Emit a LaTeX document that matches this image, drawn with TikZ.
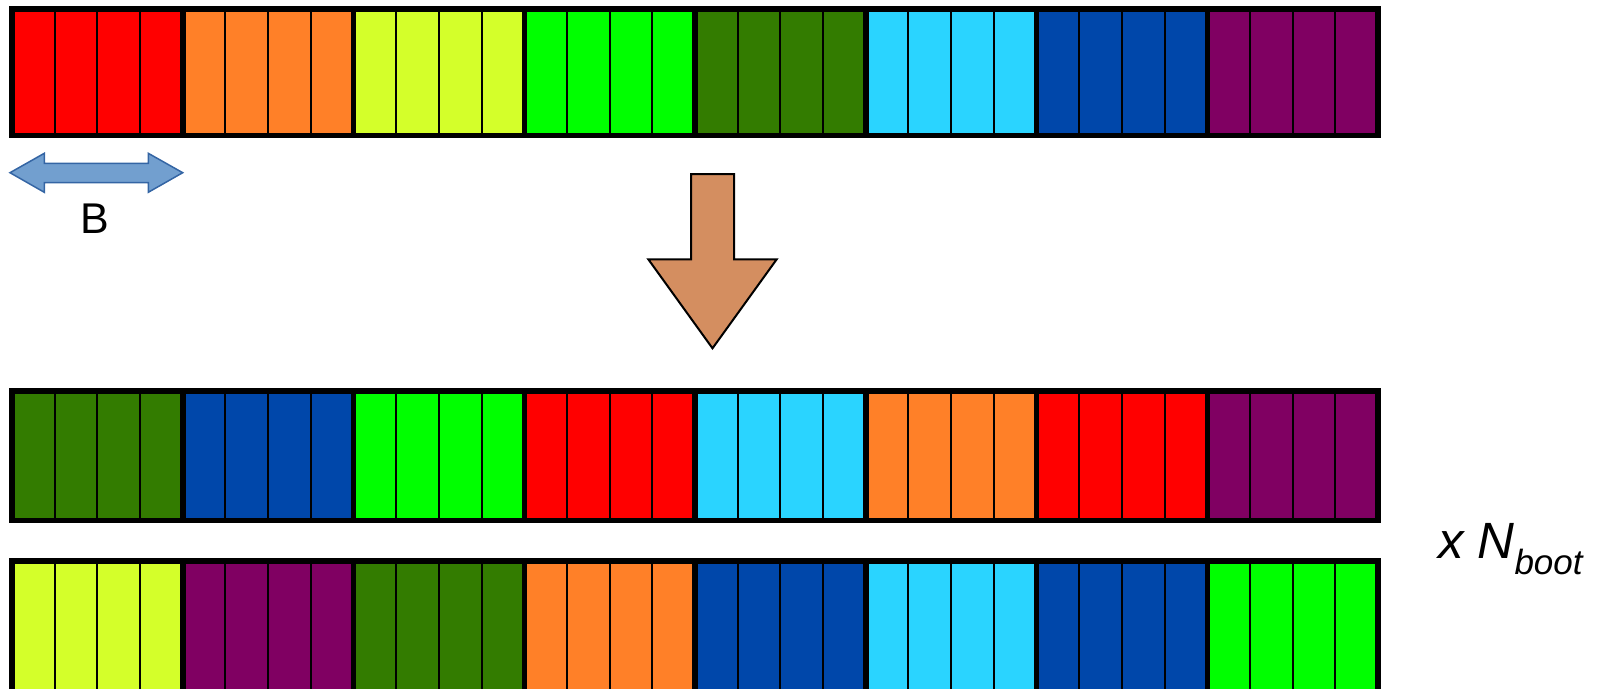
\documentclass[tikz,border=0pt]{standalone}
\usepackage{fontspec}
\setmainfont{Liberation Sans}
\definecolor{cRed}{HTML}{FF0000}
\definecolor{cOrange}{HTML}{FF8028}
\definecolor{cLime}{HTML}{D4FF2A}
\definecolor{cGreen}{HTML}{00FF00}
\definecolor{cDkGreen}{HTML}{337C00}
\definecolor{cCyan}{HTML}{2AD4FF}
\definecolor{cBlue}{HTML}{0047AA}
\definecolor{cPurple}{HTML}{800062}
\definecolor{arrBlueFill}{HTML}{729FCF}
\definecolor{arrBlueLine}{HTML}{3465A4}
\definecolor{arrBrown}{HTML}{D48E60}
\newcommand\mybar[3]{%
  \foreach \c [count=\i from 0] in {#3}{
    \fill[\c] ({12+\i*170.75},#1) rectangle ({12+(\i+1)*170.75},#2);
    \foreach \j in {1,2,3}{
      \draw[cellline] ({12+\i*170.75+\j*42.6875},#1) -- ({12+\i*170.75+\j*42.6875},#2);
    }
  }
  \foreach \i in {1,...,7}{\draw[blockline] ({12+\i*170.75},#1) -- ({12+\i*170.75},#2);}
  \draw[blockline] (12,#1) rectangle (1378,#2);
}
\begin{document}
\begin{tikzpicture}[x=1pt,y=-1pt,
  cellline/.style={line width=2pt,black},
  blockline/.style={line width=5.5pt,black,line join=miter},
  dblarrow/.style={fill=arrBlueFill,draw=arrBlueLine,line width=1.5pt,line join=miter},
  downarrow/.style={fill=arrBrown,draw=black,line width=2pt,line join=miter},
  lbl/.style={inner sep=0pt,outer sep=0pt}]
\useasboundingbox (0,0) rectangle (1597,688);
\begin{scope}
\clip (0,0) rectangle (1597,688);
\mybar{8.75}{135.25}{cRed,cOrange,cLime,cGreen,cDkGreen,cCyan,cBlue,cPurple}
\mybar{390.75}{520.25}{cDkGreen,cBlue,cGreen,cRed,cCyan,cOrange,cRed,cPurple}
\mybar{561}{705}{cLime,cPurple,cDkGreen,cOrange,cBlue,cCyan,cBlue,cGreen}
\end{scope}
% double arrow (block width B)
\draw[dblarrow] (10,172.7) -- (44.3,153.3) -- (44.3,163.3) -- (148.3,163.3) -- (148.3,153.3)
  -- (182.7,172.7) -- (148.3,192.3) -- (148.3,182.7) -- (44.3,182.7) -- (44.3,192.3) -- cycle;
\node[lbl,anchor=base] (blabel) at (95,233.3) {\fontsize{43}{43}\selectfont B};
% down arrow
\draw[downarrow] (691,174) -- (734,174) -- (734,259.3) -- (776.7,259.3) -- (712.5,348.3)
  -- (648.3,259.3) -- (691,259.3) -- cycle;
% x N_boot
\node[lbl,anchor=base west] (nboot) at (1438,558.3)
  {\fontsize{51}{51}\selectfont\itshape x N\raisebox{-15.7pt}{\fontsize{35}{35}\selectfont\itshape boot}};
\end{tikzpicture}
\end{document}
